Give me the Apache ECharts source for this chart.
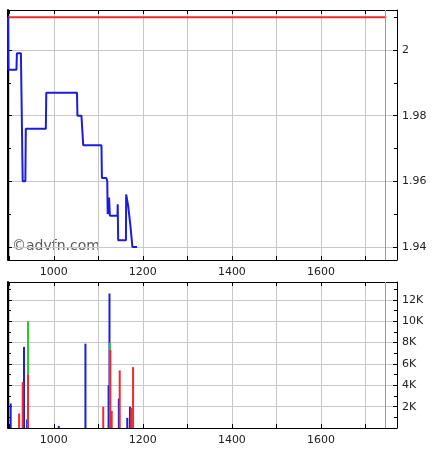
<!DOCTYPE html>
<html><head><meta charset="utf-8">
<script src="https://cdn.jsdelivr.net/npm/echarts@6/dist/echarts.min.js"></script>
<style>html,body{margin:0;padding:0;background:#fff}#c{width:437px;height:455px}</style>
</head><body><div id="c"></div>
<script>
// ---- data ----
const priceTimes = [897, 898, 916, 917, 926, 930, 936, 937, 982, 983, 1052, 1053, 1062, 1066, 1107, 1108, 1118, 1120, 1121, 1124, 1126, 1143, 1143.5, 1144.5, 1162, 1162.5, 1167, 1172, 1176, 1176.5, 1187];
const prices     = [2.01, 1.994, 1.994, 1.999, 1.999, 1.96, 1.96, 1.976, 1.976, 1.987, 1.987, 1.98, 1.98, 1.971, 1.971, 1.961, 1.961, 1.960, 1.950, 1.955, 1.9495, 1.9495, 1.953, 1.942, 1.942, 1.956, 1.9525, 1.9465, 1.9465, 1.94, 1.94];
const prevCloseTimes = [897, 1747];
const prevCloseValues = [2.01, 2.01];
const sessionEndTime = 1745;

const blueVolTimes  = [903, 933, 940, 1011, 1071, 1123, 1125, 1146, 1165, 1171];
const blueVols      = [2300, 7600, 800, 200, 7900, 4000, 12600, 2750, 950, 2000];
const greenVolTimes = [942, 1126];
const greenVols     = [10000, 8000];
const redVolTimes   = [922, 930, 942, 1111, 1127, 1130, 1148, 1174, 1178];
const redVols       = [1350, 4300, 5000, 2000, 7300, 1600, 5400, 1900, 5700];

const timeTickLabels  = [1000, 1200, 1400, 1600];
const priceTickLabels = ['2', '1.98', '1.96', '1.94'];
const volTickLabels   = ['2K', '4K', '6K', '8K', '10K', '12K'];

// ---- build ----
const zip = (a, b) => a.map((v, i) => [v, b[i]]);
const FONT = 'DejaVu Sans';
const xMin = 897, xMax = 1771;
const pMin = 1.936, pMax = 2.0122;
const vMin = 0, vMax = 13680;
const GRID_C = '#c8c8c8';
const BLUE = '#1c1ce0', RED = '#ee2a2a', GREEN = '#22cc22';

function timeLabel(v) { return timeTickLabels.some(t => Math.abs(t - v) < 1e-6) ? String(v) : ''; }
function priceLabel(v) { const f = priceTickLabels.find(t => Math.abs(parseFloat(t) - v) < 1e-7); return f || ''; }
function volLabel(v) { const f = volTickLabels.find(t => Math.abs(parseFloat(t) * 1000 - v) < 1e-6); return f || ''; }

function xAx(grid, pos) {
  const bottom = pos === 'bottom';
  return {
    type: 'value', gridIndex: grid, position: pos, min: xMin, max: xMax, splitNumber: 8,
    axisLine: { show: true, onZero: false, lineStyle: { color: '#000', width: 1 } },
    axisTick: { show: true, inside: true, length: 4, lineStyle: { color: '#000' } },
    axisLabel: { show: bottom, margin: 7, color: '#222', fontFamily: FONT, fontSize: 11,
      showMinLabel: false, showMaxLabel: false, formatter: timeLabel },
    splitLine: { show: bottom, lineStyle: { color: GRID_C, width: 1 } }
  };
}
function yAx(grid, pos, min, max, split, fmt) {
  const right = pos === 'right';
  return {
    type: 'value', gridIndex: grid, position: pos, min: min, max: max, splitNumber: split, scale: true,
    axisLine: { show: true, onZero: false, lineStyle: { color: '#000', width: right ? 1 : 2 } },
    axisTick: { show: true, inside: true, length: 4, lineStyle: { color: '#000' } },
    minorTick: { show: true, splitNumber: 2, length: 3, lineStyle: { color: '#000' } },
    axisLabel: { show: right, margin: 5, color: '#222', fontFamily: FONT, fontSize: 11,
      showMinLabel: false, showMaxLabel: false, formatter: fmt },
    splitLine: { show: right, lineStyle: { color: GRID_C, width: 1 } }
  };
}
function volBar(name, color, times, vols, withMark) {
  const s = {
    name: name, type: 'bar', xAxisIndex: 2, yAxisIndex: 2, barWidth: 2, barGap: '-100%',
    itemStyle: { color: color }, data: zip(times, vols), silent: true
  };
  if (withMark) s.markLine = markLine();
  return s;
}
function markLine() {
  return { silent: true, symbol: 'none', label: { show: false },
    lineStyle: { color: '#9a9a9a', type: 'solid', width: 1 }, data: [{ xAxis: sessionEndTime }] };
}

const chart = echarts.init(document.getElementById('c'), null, { renderer: 'canvas' });
chart.setOption({
  animation: false,
  backgroundColor: '#fff',
  textStyle: { fontFamily: FONT },
  grid: [
    { left: 8, right: 40, top: 10, height: 250 },
    { left: 8, right: 40, top: 282, height: 146 }
  ],
  xAxis: [xAx(0, 'bottom'), xAx(0, 'top'), xAx(1, 'bottom'), xAx(1, 'top')],
  yAxis: [
    yAx(0, 'right', pMin, pMax, 4, priceLabel),
    yAx(0, 'left', pMin, pMax, 4, priceLabel),
    yAx(1, 'right', vMin, vMax, 7, volLabel),
    yAx(1, 'left', vMin, vMax, 7, volLabel)
  ],
  graphic: [{
    type: 'text', left: 12, top: 239, silent: true,
    style: { text: '©advfn.com', fill: '#5a5a5a', font: '14px "DejaVu Sans"' }
  }],
  series: [
    { name: 'prevClose', type: 'line', xAxisIndex: 0, yAxisIndex: 0, showSymbol: false, silent: true,
      lineStyle: { color: RED, width: 2 }, data: zip(prevCloseTimes, prevCloseValues), markLine: markLine() },
    { name: 'price', type: 'line', xAxisIndex: 0, yAxisIndex: 0, showSymbol: false, silent: true,
      lineStyle: { color: BLUE, width: 2 }, data: zip(priceTimes, prices) },
    volBar('blue', BLUE, blueVolTimes, blueVols, true),
    volBar('green', GREEN, greenVolTimes, greenVols, false),
    volBar('red', RED, redVolTimes, redVols, false)
  ]
});
</script></body></html>
